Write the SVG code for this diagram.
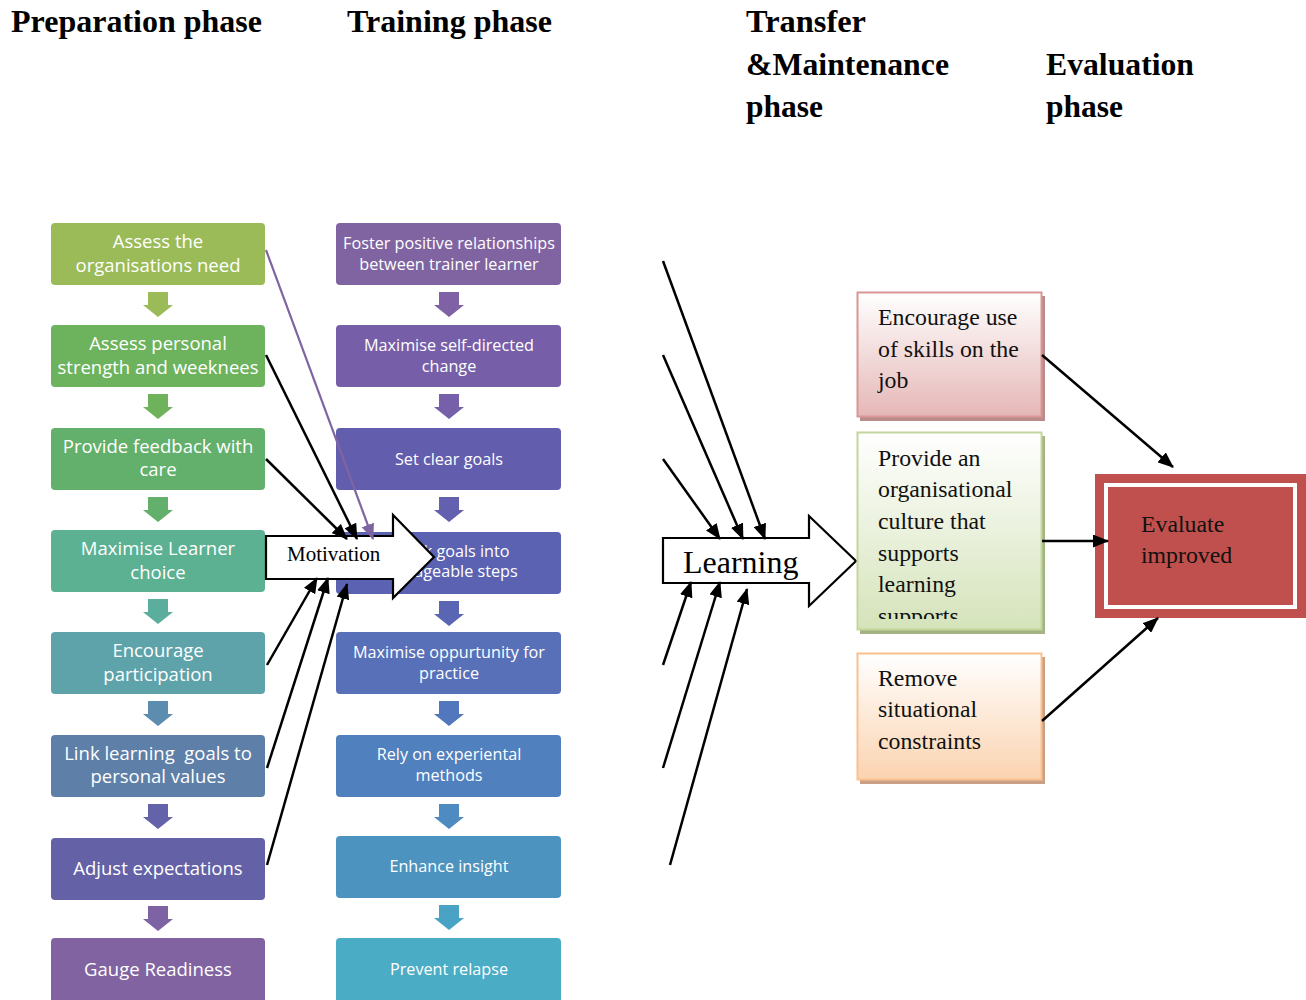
<svg xmlns="http://www.w3.org/2000/svg" width="1306" height="1000" viewBox="0 0 1306 1000">
<style>
.hd{font-family:"Liberation Serif","Times New Roman",serif;font-weight:bold;font-size:31px;fill:#000}
.lt{font-family:"Open Sans","Noto Sans",sans-serif;font-size:18.5px;fill:#fff;text-anchor:middle}
.mt{font-family:"Open Sans","Noto Sans",sans-serif;font-size:16.2px;fill:#fff;text-anchor:middle}
.sr{font-family:"Liberation Serif","Times New Roman",serif;fill:#000}
.rt{font-family:"Liberation Serif","Times New Roman",serif;font-size:23.8px;fill:#111}
.ln{stroke:#000;stroke-width:2.5;fill:none}
.big{fill:#fff;stroke:#000;stroke-width:2.2}
</style>
<defs>
<path id="dn" d="M-10,0 H10 V13 H15 L0,25 L-15,13 H-10 Z"/>
<marker id="ah" viewBox="0 0 16 13" refX="15" refY="6.5" markerWidth="16" markerHeight="13" markerUnits="userSpaceOnUse" orient="auto">
<path d="M0,0 L16,6.5 L0,13 Z" fill="#000"/>
</marker>
<marker id="ahp" viewBox="0 0 16 13" refX="15" refY="6.5" markerWidth="16" markerHeight="13" markerUnits="userSpaceOnUse" orient="auto">
<path d="M0,0 L16,6.5 L0,13 Z" fill="#8064A2"/>
</marker>
<linearGradient id="gPink" x1="0" y1="0" x2="0" y2="1"><stop offset="0" stop-color="#fff"/><stop offset="1" stop-color="#E5B7B6"/></linearGradient>
<linearGradient id="gGreen" x1="0" y1="0" x2="0" y2="1"><stop offset="0" stop-color="#fff"/><stop offset="1" stop-color="#D5E3BA"/></linearGradient>
<linearGradient id="gOrange" x1="0" y1="0" x2="0" y2="1"><stop offset="0" stop-color="#fff"/><stop offset="1" stop-color="#FBD3B0"/></linearGradient>
<clipPath id="clipGreen"><rect x="857" y="432" width="185" height="187"/></clipPath>
</defs>
<rect width="1306" height="1000" fill="#fff"/>

<g id="headings">
<text class="hd" x="11" y="32" textLength="251" lengthAdjust="spacingAndGlyphs">Preparation phase</text>
<text class="hd" x="347" y="32" textLength="205" lengthAdjust="spacingAndGlyphs">Training phase</text>
<text class="hd" x="746" y="32" textLength="120" lengthAdjust="spacingAndGlyphs">Transfer</text>
<text class="hd" x="746" y="75" textLength="203" lengthAdjust="spacingAndGlyphs">&amp;Maintenance</text>
<text class="hd" x="746" y="117" textLength="77" lengthAdjust="spacingAndGlyphs">phase</text>
<text class="hd" x="1046" y="75" textLength="148" lengthAdjust="spacingAndGlyphs">Evaluation</text>
<text class="hd" x="1046" y="117" textLength="77" lengthAdjust="spacingAndGlyphs">phase</text>
</g>

<g id="prep-arrows">
<use href="#dn" transform="translate(158,292)" fill="#9BBB59"/>
<use href="#dn" transform="translate(158,394)" fill="#6EB35C"/>
<use href="#dn" transform="translate(158,497)" fill="#62B06C"/>
<use href="#dn" transform="translate(158,599)" fill="#5CAE9C"/>
<use href="#dn" transform="translate(158,701)" fill="#5D8DAE"/>
<use href="#dn" transform="translate(158,804)" fill="#6462A8"/>
<use href="#dn" transform="translate(158,906)" fill="#7D63A3"/>
</g>
<g id="train-arrows">
<use href="#dn" transform="translate(449,292)" fill="#7F62A6"/>
<use href="#dn" transform="translate(449,394)" fill="#7560A9"/>
<use href="#dn" transform="translate(449,497)" fill="#6360AF"/>
<use href="#dn" transform="translate(449,601)" fill="#5A66B4"/>
<use href="#dn" transform="translate(449,701)" fill="#5277BC"/>
<use href="#dn" transform="translate(449,804)" fill="#4E8BC0"/>
<use href="#dn" transform="translate(449,905)" fill="#4AA3C4"/>
</g>

<g id="p1"><rect x="51" y="223" width="214" height="62" rx="4" fill="#9BBB59"/><text class="lt" x="158" y="248">Assess the</text><text class="lt" x="158" y="272">organisations need</text></g>
<g id="p2"><rect x="51" y="325" width="214" height="62" rx="4" fill="#6DB35D"/><text class="lt" x="158" y="350">Assess personal</text><text class="lt" x="158" y="374">strength and weeknees</text></g>
<g id="p3"><rect x="51" y="428" width="214" height="62" rx="4" fill="#62B06C"/><text class="lt" x="158" y="453">Provide feedback with</text><text class="lt" x="158" y="476">care</text></g>
<g id="p4"><rect x="51" y="530" width="214" height="62" rx="4" fill="#5BB192"/><text class="lt" x="158" y="555">Maximise Learner</text><text class="lt" x="158" y="579">choice</text></g>
<g id="p5"><rect x="51" y="632" width="214" height="62" rx="4" fill="#5EA3AA"/><text class="lt" x="158" y="657">Encourage</text><text class="lt" x="158" y="681">participation</text></g>
<g id="p6"><rect x="51" y="735" width="214" height="62" rx="4" fill="#5E80A8"/><text class="lt" x="158" y="760">Link learning&#160; goals to</text><text class="lt" x="158" y="783">personal values</text></g>
<g id="p7"><rect x="51" y="838" width="214" height="62" rx="4" fill="#6461A7"/><text class="lt" x="158" y="875">Adjust expectations</text></g>
<g id="p8"><rect x="51" y="938" width="214" height="66" rx="4" fill="#8063A0"/><text class="lt" x="158" y="976">Gauge Readiness</text></g>

<g id="t1"><rect x="336" y="223" width="225" height="62" rx="4" fill="#8064A2"/><text class="mt" x="449" y="249">Foster positive relationships</text><text class="mt" x="449" y="270">between trainer learner</text></g>
<g id="t2"><rect x="336" y="325" width="225" height="62" rx="4" fill="#765FA8"/><text class="mt" x="449" y="351">Maximise self-directed</text><text class="mt" x="449" y="372">change</text></g>
<g id="t3"><rect x="336" y="428" width="225" height="62" rx="4" fill="#635DAD"/><text class="mt" x="449" y="465">Set clear goals</text></g>
<g id="t4"><rect x="336" y="532" width="225" height="62" rx="4" fill="#5A62B1"/><text class="mt" x="449" y="557">Break goals into</text><text class="mt" x="449" y="577">manageable steps</text></g>
<g id="t5"><rect x="336" y="632" width="225" height="62" rx="4" fill="#5870B8"/><text class="mt" x="449" y="658">Maximise oppurtunity for</text><text class="mt" x="449" y="679">practice</text></g>
<g id="t6"><rect x="336" y="735" width="225" height="62" rx="4" fill="#5080BD"/><text class="mt" x="449" y="760">Rely on experiental</text><text class="mt" x="449" y="781">methods</text></g>
<g id="t7"><rect x="336" y="836" width="225" height="62" rx="4" fill="#4C93C0"/><text class="mt" x="449" y="872">Enhance insight</text></g>
<g id="t8"><rect x="336" y="938" width="225" height="66" rx="4" fill="#4BACC6"/><text class="mt" x="449" y="975">Prevent relapse</text></g>

<g id="motivation">
<path class="big" d="M266,536 H393 V515 L434,557 L393,598 V579 H266 Z"/>
<text class="sr" x="287" y="561" font-size="21">Motivation</text>
</g>

<g id="learning">
<path class="big" d="M663,538 H809 V516 L856,561 L809,606 V583 H663 Z"/>
<text class="sr" x="683" y="573" font-size="32">Learning</text>
</g>

<g id="r1">
<rect x="860" y="296" width="185" height="125" fill="#B98C8A"/>
<rect x="857.5" y="292.5" width="184" height="124" fill="url(#gPink)" stroke="#D99694" stroke-width="2"/>
<text class="rt" x="878" y="325">Encourage use</text>
<text class="rt" x="878" y="357">of skills on the</text>
<text class="rt" x="878" y="388">job</text>
</g>
<g id="r2">
<rect x="860" y="436" width="185" height="198" fill="#A3B386"/>
<rect x="857.5" y="432.5" width="184" height="197" fill="url(#gGreen)" stroke="#C3D69B" stroke-width="2"/>
<g clip-path="url(#clipGreen)">
<text class="rt" x="878" y="466">Provide an</text>
<text class="rt" x="878" y="497">organisational</text>
<text class="rt" x="878" y="529">culture that</text>
<text class="rt" x="878" y="561">supports</text>
<text class="rt" x="878" y="592">learning</text>
<text class="rt" x="878" y="624">supports</text>
</g>
</g>
<g id="r3">
<rect x="860" y="657" width="185" height="127" fill="#C9A083"/>
<rect x="857.5" y="653.5" width="184" height="126" fill="url(#gOrange)" stroke="#FAC090" stroke-width="2"/>
<text class="rt" x="878" y="686">Remove</text>
<text class="rt" x="878" y="717">situational</text>
<text class="rt" x="878" y="749">constraints</text>
</g>

<g id="evaluate">
<rect x="1095" y="474" width="211" height="144" fill="#C0504D"/>
<rect x="1106" y="485" width="189" height="122" fill="#C0504D" stroke="#fff" stroke-width="4"/>
<text class="rt" x="1141" y="532">Evaluate</text>
<text class="rt" x="1141" y="563">improved</text>
</g>

<g id="connectors">
<line x1="266" y1="250" x2="373" y2="539" stroke="#8064A2" stroke-width="2.2" marker-end="url(#ahp)"/>
<line class="ln" x1="266" y1="355" x2="357" y2="539" marker-end="url(#ah)"/>
<line class="ln" x1="266" y1="459" x2="347" y2="539" marker-end="url(#ah)"/>
<line class="ln" x1="267" y1="665" x2="317" y2="578" marker-end="url(#ah)"/>
<line class="ln" x1="267" y1="768" x2="328" y2="578" marker-end="url(#ah)"/>
<line class="ln" x1="267" y1="865" x2="347" y2="584" marker-end="url(#ah)"/>
<line class="ln" x1="663" y1="261" x2="765" y2="539" marker-end="url(#ah)"/>
<line class="ln" x1="663" y1="355" x2="743" y2="539" marker-end="url(#ah)"/>
<line class="ln" x1="663" y1="459" x2="720" y2="539" marker-end="url(#ah)"/>
<line class="ln" x1="663" y1="665" x2="691" y2="582" marker-end="url(#ah)"/>
<line class="ln" x1="663" y1="768" x2="720" y2="582" marker-end="url(#ah)"/>
<line class="ln" x1="670" y1="865" x2="747" y2="589" marker-end="url(#ah)"/>
<line class="ln" x1="1042" y1="355" x2="1173" y2="467" marker-end="url(#ah)"/>
<line class="ln" x1="1042" y1="541" x2="1108" y2="541" marker-end="url(#ah)"/>
<line class="ln" x1="1042" y1="721" x2="1158" y2="618" marker-end="url(#ah)"/>
</g>
</svg>
